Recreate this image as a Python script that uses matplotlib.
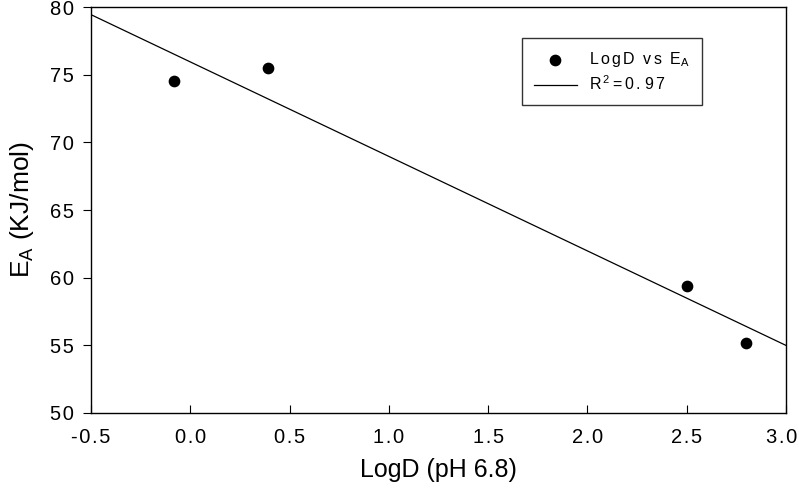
import numpy as np
import matplotlib
matplotlib.use("Agg")
import matplotlib.pyplot as plt
import matplotlib.transforms as mtransforms

plt.rcParams['font.family'] = ['Liberation Sans', 'DejaVu Sans']
plt.rcParams['mathtext.fontset'] = 'custom'
plt.rcParams['mathtext.rm'] = 'Liberation Sans'
plt.rcParams['mathtext.it'] = 'Liberation Sans'

# data
logd = [-0.08, 0.39, 2.50, 2.80]
ea = [74.5, 75.5, 59.4, 55.2]
x_ticks = [-0.5, 0.0, 0.5, 1.0, 1.5, 2.0, 2.5, 3.0]
y_ticks = [50, 55, 60, 65, 70, 75, 80]

HS = "\u200a"  # hair space, for the wide letter spacing of the original


def spaced(s):
    return HS.join(s)


# linear regression over the points
slope, intercept = np.polyfit(logd, ea, 1)
line_x = np.array([-0.5, 3.0])
line_y = slope * line_x + intercept

fig = plt.figure(figsize=(7.99, 4.91), dpi=100)
ax = fig.add_axes([0.1139, 0.1589, 0.8698, 0.8268])

ax.scatter(logd, ea, s=55, c="black", zorder=3,
           label=r"$\mathrm{L\,o\,g\,D\ \ v\,s\ \ E_A}$")
ax.plot(line_x, line_y, color="black", lw=0.9,
        label=r"$\mathrm{R\,^2{=}0\,.\,9\,7}$")

ax.set_xlim(-0.5, 3.0)
ax.set_ylim(50, 80)
ax.set_xticks(x_ticks)
ax.set_xticklabels([spaced(f"{t:.1f}") for t in x_ticks])
ax.set_yticks(y_ticks)
ax.set_yticklabels([spaced(str(t)) for t in y_ticks])
ax.tick_params(axis="x", direction="in", length=6, labelsize=14.5, pad=11)
ax.tick_params(axis="y", direction="out", length=6, labelsize=14.5, pad=6)
for s in ax.spines.values():
    s.set_linewidth(1.0)

# keep the last x label inside the figure edge
last = ax.get_xticklabels()[-1]
last.set_transform(last.get_transform() +
                   mtransforms.ScaledTranslation(-4 / 100, 0, fig.dpi_scale_trans))

ax.set_xlabel("LogD (pH 6.8)", fontsize=18, labelpad=8)
ax.set_ylabel("E$_A$ (KJ/mol)", fontsize=19, labelpad=10)

leg = ax.legend(loc="upper left", bbox_to_anchor=(0.62, 0.924), fontsize=11.5,
                frameon=True, fancybox=False, edgecolor="black",
                borderaxespad=0, borderpad=0.75, handlelength=2.7,
                handletextpad=0.75, labelspacing=0.35)
leg.get_frame().set_linewidth(1.0)

fig.savefig("out.png", dpi=100)
